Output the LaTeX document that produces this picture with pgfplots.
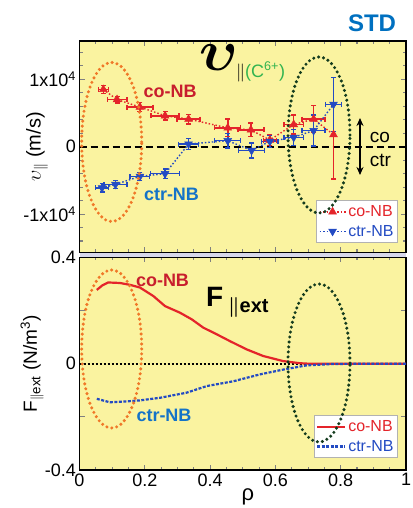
\RequirePackage{fix-cm}
\documentclass[border=0pt]{standalone}
\usepackage{fontspec}
\setmainfont{Liberation Sans}
\usepackage{amsmath}
\usepackage{pgfplots}
\pgfplotsset{compat=1.18}
\usetikzlibrary{arrows.meta}
\definecolor{ybg}{RGB}{250,243,160}
\definecolor{redc}{RGB}{228,36,42}
\definecolor{bluec}{RGB}{35,75,195}
\definecolor{labred}{RGB}{200,30,45}
\definecolor{labblue}{RGB}{20,115,200}
\definecolor{stdblue}{RGB}{0,112,192}
\definecolor{greent}{RGB}{50,180,80}
\definecolor{orell}{RGB}{240,120,40}
\definecolor{grell}{RGB}{20,60,30}
\definecolor{lav}{RGB}{215,215,235}
\pgfplotsset{
  every axis/.append style={
    scale only axis, width=326.5pt,
    xmin=0, xmax=1,
    tick align=inside,
    major tick length=5pt, minor tick length=3pt,
    tick style={line width=1.1pt},
    axis line style={line width=1.6pt},
    axis background/.style={fill=ybg},
    /pgf/number format/assume math mode=true,
    tick label style={font=\fontsize{18}{20}\selectfont},
    label style={font=\fontsize{19}{21}\selectfont},
    legend cell align=left,
    legend style={draw=gray!60, fill=white, line width=0.8pt, font=\fontsize{16}{18}\selectfont, inner xsep=2pt, inner ysep=3pt, row sep=3pt},
  },
  ebar/.style={line width=1.6pt, unbounded coords=jump, forget plot, solid},
  ecap/.style={only marks, mark size=2.5pt, mark options={line width=1.4pt, solid}, forget plot},
}
\begin{document}
\begin{tikzpicture}
\useasboundingbox (0,0) rectangle (412pt,508pt);
\fill[lav] (79.5pt,250.5pt) rectangle (406pt,255.5pt);
% ---------------- upper panel
\begin{axis}[
  at={(79.5pt,255.5pt)}, anchor=south west, height=211.5pt,
  ymin=-15700, ymax=15700,
  xtick={0,0.2,0.4,0.6,0.8,1}, xticklabels={}, minor x tick num=3,
  ytick={-10000,0,10000},
  yticklabels={-1x10\textsuperscript{4},0,1x10\textsuperscript{4}},
  minor ytick={-14000,-12000,-8000,-6000,-4000,-2000,2000,4000,6000,8000,12000,14000},
  scaled y ticks=false,
  ylabel={$\upsilon_{\parallel}$ (m/s)},
  ylabel style={at={(axis description cs:-0.13,0.5)}, anchor=center, font=\fontsize{20}{22}\selectfont},
  legend style={at={(0.9755,0.045)}, anchor=south east},
  legend image code/.code={\draw[mark repeat=2,mark phase=2,#1] plot coordinates {(0pt,0pt) (13pt,0pt) (26pt,0pt)};},
]
\addplot[black, line width=1.8pt, dash pattern=on 7pt off 4pt, forget plot] coordinates {(0,0) (1,0)};
% co-NB error bars
\addplot[draw=redc, ebar] coordinates {
(0.058,8500) (0.088,8500) (nan,nan) (0.073,7900) (0.073,9100) (nan,nan)
(0.085,7000) (0.145,7000) (nan,nan) (0.115,6500) (0.115,7500) (nan,nan)
(0.145,5900) (0.225,5900) (nan,nan) (0.185,5200) (0.185,6600) (nan,nan)
(0.219,4600) (0.305,4600) (nan,nan) (0.262,4000) (0.262,5200) (nan,nan)
(0.299,4100) (0.369,4100) (nan,nan) (0.334,3400) (0.334,4800) (nan,nan)
(0.414,2800) (0.494,2800) (nan,nan) (0.454,1500) (0.454,4100) (nan,nan)
(0.485,2500) (0.565,2500) (nan,nan) (0.525,1500) (0.525,3500) (nan,nan)
(0.563,1000) (0.603,1000) (nan,nan) (0.583,200) (0.583,1800) (nan,nan)
(0.626,3300) (0.686,3300) (nan,nan) (0.656,1900) (0.656,4700) (nan,nan)
(0.682,4100) (0.752,4100) (nan,nan) (0.717,2100) (0.717,6100) (nan,nan)
(0.778,-4800) (0.778,6200)
};
\addplot[redc, ecap, mark=-] coordinates {
(0.073,7900) (0.073,9100) (0.115,6500) (0.115,7500) (0.185,5200) (0.185,6600)
(0.262,4000) (0.262,5200) (0.334,3400) (0.334,4800) (0.454,1500) (0.454,4100)
(0.525,1500) (0.525,3500) (0.583,200) (0.583,1800) (0.656,1900) (0.656,4700)
(0.717,2100) (0.717,6100) (0.778,-4800) (0.778,6200)
};
\addplot[redc, ecap, mark=|] coordinates {
(0.058,8500) (0.088,8500) (0.085,7000) (0.145,7000) (0.145,5900) (0.225,5900)
(0.219,4600) (0.305,4600) (0.299,4100) (0.369,4100) (0.414,2800) (0.494,2800)
(0.485,2500) (0.565,2500) (0.563,1000) (0.603,1000) (0.626,3300) (0.686,3300)
(0.682,4100) (0.752,4100)
};
% ctr-NB error bars
\addplot[draw=bluec, ebar] coordinates {
(0.049,-6100) (0.089,-6100) (nan,nan) (0.069,-6700) (0.069,-5500) (nan,nan)
(0.075,-5600) (0.145,-5600) (nan,nan) (0.110,-6200) (0.110,-5000) (nan,nan)
(0.155,-4400) (0.215,-4400) (nan,nan) (0.185,-5000) (0.185,-3800) (nan,nan)
(0.217,-4000) (0.307,-4000) (nan,nan) (0.262,-4700) (0.262,-3300) (nan,nan)
(0.304,400) (0.364,400) (nan,nan) (0.334,-400) (0.334,1200) (nan,nan)
(0.414,900) (0.494,900) (nan,nan) (0.454,-200) (0.454,2000) (nan,nan)
(0.487,-550) (0.567,-550) (nan,nan) (0.527,-1650) (0.527,550) (nan,nan)
(0.558,800) (0.608,800) (nan,nan) (0.583,-100) (0.583,1700) (nan,nan)
(0.626,1400) (0.686,1400) (nan,nan) (0.656,200) (0.656,2600) (nan,nan)
(0.682,2400) (0.752,2400) (nan,nan) (0.717,100) (0.717,4700) (nan,nan)
(0.753,6300) (0.803,6300) (nan,nan) (0.778,2300) (0.778,10300)
};
\addplot[bluec, ecap, mark=-] coordinates {
(0.069,-6700) (0.069,-5500) (0.110,-6200) (0.110,-5000) (0.185,-5000) (0.185,-3800)
(0.262,-4700) (0.262,-3300) (0.334,-400) (0.334,1200) (0.454,-200) (0.454,2000)
(0.527,-1650) (0.527,550) (0.583,-100) (0.583,1700) (0.656,200) (0.656,2600)
(0.717,100) (0.717,4700) (0.778,2300) (0.778,10300)
};
\addplot[bluec, ecap, mark=|] coordinates {
(0.049,-6100) (0.089,-6100) (0.075,-5600) (0.145,-5600) (0.155,-4400) (0.215,-4400)
(0.217,-4000) (0.307,-4000) (0.304,400) (0.364,400) (0.414,900) (0.494,900)
(0.487,-550) (0.567,-550) (0.558,800) (0.608,800) (0.626,1400) (0.686,1400)
(0.682,2400) (0.752,2400) (0.753,6300) (0.803,6300)
};
% data
\addplot[redc, line width=1.4pt, dash pattern=on 1.5pt off 2pt, mark=triangle*, mark size=4.5pt,
  mark options={solid, line width=0.5pt, fill=redc, draw=redc}]
coordinates {
(0.073,8500) (0.115,7000) (0.185,5900) (0.262,4600) (0.334,4100) (0.454,2800)
(0.525,2500) (0.583,1000) (0.656,3300) (0.717,4100) (0.778,1800)
};
\addlegendentry{\textcolor{redc}{co-NB}}
\addplot[bluec, line width=1.4pt, dash pattern=on 1.5pt off 2pt, mark=triangle*, mark size=4.5pt,
  mark options={solid, rotate=180, line width=0.5pt, fill=bluec, draw=bluec}]
coordinates {
(0.069,-6100) (0.110,-5600) (0.185,-4400) (0.262,-4000) (0.334,400) (0.454,900)
(0.527,-550) (0.583,800) (0.656,1400) (0.717,2400) (0.778,6300)
};
\addlegendentry{\textcolor{bluec}{ctr-NB}}
\end{axis}
% ---------------- lower panel
\begin{axis}[
  at={(79.5pt,38pt)}, anchor=south west, height=212.5pt,
  ymin=-0.4, ymax=0.4,
  xtick={0,0.2,0.4,0.6,0.8,1}, xticklabels={0,0.2,0.4,0.6,0.8,1}, minor x tick num=3,
  ytick={-0.4,-0.2,0,0.2,0.4}, yticklabels={-0.4,,0,,0.4},
  xlabel={ρ},
  xlabel style={at={(axis description cs:0.516,-0.125)}, anchor=center, font=\fontsize{22}{24}\selectfont},
  ylabel={F\textsubscript{$\parallel$ext} (N/m\textsuperscript{3})},
  ylabel style={at={(axis description cs:-0.145,0.5)}, anchor=center},
  legend style={at={(0.9755,0.056)}, anchor=south east},
  legend image code/.code={\draw[#1] (0pt,0pt) -- (28pt,0pt);},
]
\addplot[black, line width=1.8pt, dash pattern=on 2pt off 2pt, forget plot] coordinates {(0,0) (1,0)};
\addplot[redc, line width=2.2pt] coordinates {
(0.053,0.278) (0.070,0.295) (0.088,0.306) (0.124,0.304) (0.155,0.297)
(0.185,0.287) (0.226,0.255) (0.262,0.217) (0.308,0.192) (0.344,0.167)
(0.379,0.136) (0.420,0.111) (0.461,0.085) (0.512,0.054) (0.563,0.029)
(0.624,0.010) (0.675,0.002) (0.705,0.000) (0.800,0.000) (1.000,0.000)
};
\addlegendentry{\textcolor{redc}{co-NB}}
\addplot[bluec, line width=2.2pt, dash pattern=on 3pt off 1.5pt] coordinates {
(0.053,-0.132) (0.093,-0.145) (0.140,-0.142) (0.185,-0.138) (0.247,-0.128)
(0.328,-0.109) (0.390,-0.084) (0.471,-0.066) (0.553,-0.040) (0.624,-0.022)
(0.696,-0.006) (0.776,-0.001) (0.850,0.000) (1.000,0.000)
};
\addlegendentry{\textcolor{bluec}{ctr-NB}}
\end{axis}
% ---------------- annotations
\tikzset{dots/.style={line width=3.4pt, line cap=round, dash pattern=on 0pt off 5pt}}
\draw[dots, orell] (111.7pt,366pt) ellipse [x radius=30pt, y radius=79.5pt];
\draw[dots, grell] (319pt,373pt) ellipse [x radius=31pt, y radius=78pt];
\draw[dots, orell] (111.7pt,159pt) ellipse [x radius=30pt, y radius=79pt];
\draw[dots, grell] (319pt,145pt) ellipse [x radius=31pt, y radius=79pt];
\node[stdblue, font=\fontsize{24}{26}\selectfont\bfseries] at (372pt,484.5pt) {STD};
\node at (219pt,450pt) {\fontsize{58}{58}\selectfont$\boldsymbol{\upsilon}$};
\node[anchor=west, inner sep=0pt, font=\fontsize{18}{20}\selectfont] at (236pt,436pt) {$\parallel$\textcolor{greent}{(C\textsuperscript{6+})}};
\node[labred, font=\fontsize{18}{20}\selectfont\bfseries] at (170pt,417pt) {co-NB};
\node[labblue, font=\fontsize{18}{20}\selectfont\bfseries] at (171.5pt,314pt) {ctr-NB};
\draw[{Stealth[length=8pt,width=7pt]}-{Stealth[length=8pt,width=7pt]}, line width=1.6pt] (360pt,390pt) -- (360pt,333pt);
\node[anchor=base, font=\fontsize{19}{21}\selectfont] at (380pt,365pt) {co};
\node[anchor=base, font=\fontsize{19}{21}\selectfont] at (380.5pt,341pt) {ctr};
\node[labred, font=\fontsize{18}{20}\selectfont\bfseries] at (162.5pt,228pt) {co-NB};
\node[labblue, font=\fontsize{18}{20}\selectfont\bfseries] at (164pt,93pt) {ctr-NB};
\node[anchor=base west, inner sep=0pt, font=\fontsize{28}{30}\selectfont\bfseries] at (206pt,201pt) {F};
\node[anchor=base west, inner sep=0pt, font=\fontsize{20}{22}\selectfont\bfseries] at (228pt,195pt) {$\boldsymbol{\parallel}$ext};
\end{tikzpicture}
\end{document}
